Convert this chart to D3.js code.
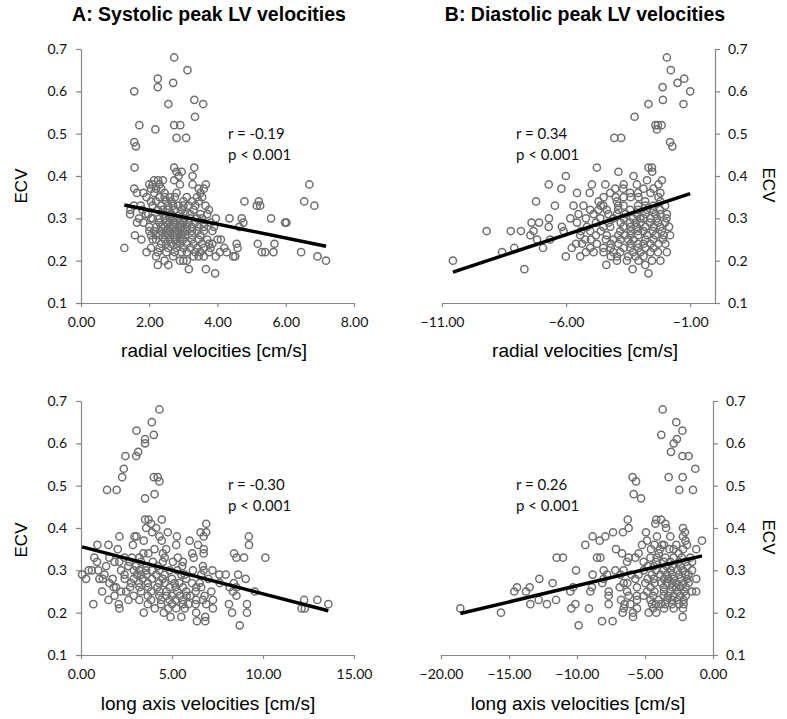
<!DOCTYPE html>
<html>
<head>
<meta charset="utf-8">
<script src="https://cdn.jsdelivr.net/npm/d3@7"></script>
<style>
  body { margin: 0; background: #fff; }
  .axis path, .axis line { stroke: #868686; stroke-width: 1.2; }
  .axis text { font-family: Lato, "Open Sans", sans-serif; font-size: 14px; fill: #111; }
  .arial { font-family: "Liberation Sans", Arial, sans-serif; fill: #000; }
</style>
</head>
<body>
<div id="chart"></div>
<script>
// ---------- DATA (ECV vs peak LV velocities) ----------

// A top: systolic radial velocities [cm/s], ECV
var sysRadial = [
  [2.73,.68],[3.12,.65],[2.25,.63],[2.70,.62],[2.25,.61],[1.56,.60],[3.32,.58],[2.56,.57],[3.58,.57],
  [3.34,.54],[1.71,.52],[2.73,.52],[2.91,.52],[2.18,.51],[2.80,.49],[3.08,.49],[1.56,.48],[1.61,.47],
  [1.57,.42],[2.73,.42],[3.32,.42],[2.80,.41],[2.95,.41],[3.27,.40],[2.86,.40],
  [2.14,.39],[2.40,.39],[2.73,.39],[2.26,.39],
  [2.00,.38],[2.10,.38],[2.30,.38],[2.90,.38],[3.27,.38],[3.66,.38],[6.69,.38],
  [1.56,.37],[2.05,.37],[2.20,.37],[3.45,.37],[3.60,.37],[2.35,.37],
  [1.64,.36],[1.83,.36],[2.15,.36],[2.45,.36],[2.80,.36],[3.50,.36],
  [1.92,.35],[2.30,.35],[2.60,.35],[3.10,.35],[3.40,.35],[3.55,.35],
  [2.20,.34],[2.50,.34],[3.00,.34],[3.45,.34],[4.79,.34],[5.21,.34],[6.54,.34],
  [1.55,.33],[2.35,.33],[2.70,.33],[2.85,.33],[3.15,.33],[3.65,.33],[5.15,.33],[5.25,.33],[6.84,.33],
  [1.45,.32],[1.80,.32],[2.25,.32],[2.55,.32],[2.75,.32],[2.95,.32],[3.30,.32],[3.75,.32],
  [1.44,.31],[1.97,.31],[2.40,.31],[2.65,.31],[3.05,.31],[3.50,.31],[3.70,.31],
  [2.10,.30],[2.30,.30],[2.60,.30],[2.85,.30],[3.20,.30],[3.40,.30],[4.35,.30],[4.71,.30],[5.57,.30],
  [1.64,.29],[1.83,.29],[2.50,.29],[2.75,.29],[3.00,.29],[3.35,.29],[3.80,.29],[4.76,.29],[5.98,.29],[6.02,.29],
  [2.00,.28],[2.20,.28],[2.45,.28],[2.70,.28],[2.95,.28],[3.25,.28],[3.45,.28],[3.90,.28],[4.64,.28],
  [2.15,.27],[2.35,.27],[2.60,.27],[2.85,.27],[3.10,.27],[3.40,.27],[3.60,.27],
  [1.58,.26],[2.05,.26],[2.30,.26],[2.55,.26],[2.80,.26],[3.05,.26],[3.50,.26],
  [1.77,.25],[2.20,.25],[2.45,.25],[2.75,.25],[3.00,.25],[3.25,.25],[3.70,.25],[4.00,.25],[4.10,.25],
  [2.35,.24],[2.65,.24],[2.90,.24],[3.55,.24],[3.85,.24],[4.56,.24],[5.18,.24],[5.67,.24],
  [1.27,.23],[2.05,.23],[2.55,.23],[3.00,.23],[3.40,.23],[3.80,.23],[4.20,.23],[4.59,.23],
  [1.92,.22],[2.25,.22],[2.75,.22],[3.10,.22],[3.50,.22],[4.07,.22],[4.27,.22],[5.30,.22],[5.40,.22],[5.64,.22],[6.45,.22],
  [2.70,.21],[3.30,.21],[3.45,.21],[3.60,.21],[4.46,.21],[4.52,.21],[6.93,.21],
  [2.45,.20],[2.90,.20],[3.00,.20],[3.10,.20],[7.18,.20],
  [2.25,.19],[2.56,.19],[3.16,.18],[3.66,.18],[3.93,.17],
  [2.10,.33],[2.40,.32],[2.62,.31],[2.90,.31],[3.20,.31],[2.05,.30],[2.45,.30],[2.70,.30],[3.00,.30],[3.55,.30],
  [2.30,.29],[2.60,.29],[2.90,.29],[3.15,.29],[3.60,.29],[2.35,.28],[2.60,.28],[2.85,.28],[3.10,.28],[3.60,.28],
  [2.00,.27],[2.50,.27],[2.75,.27],[3.00,.27],[3.25,.27],[2.20,.26],[2.45,.26],[2.70,.26],[2.95,.26],[3.25,.26],
  [2.10,.25],[2.60,.25],[2.90,.25],[3.45,.25],[2.50,.24],[2.80,.24],[3.10,.24],[3.30,.24],[2.30,.23],[2.80,.23],
  [3.20,.23],[3.60,.23],[2.50,.22],[2.95,.22],[3.35,.22],[3.75,.22],[2.55,.33],[3.00,.33],[3.35,.33],[2.05,.34],
  [2.65,.34],[3.25,.34],[2.45,.35],[2.75,.35],[1.90,.31],[1.70,.30],[1.75,.33],[3.85,.27],[3.95,.30],[3.75,.24],
  [2.20,.21],[3.95,.21]
];

// B top: diastolic radial velocities [cm/s], ECV
var diaRadial = [
  [-1.94,.68],[-1.78,.65],[-1.24,.63],[-1.51,.62],[-2.11,.61],[-1.00,.60],[-2.10,.58],[-1.27,.57],[-2.68,.57],
  [-3.24,.54],[-2.40,.52],[-2.30,.52],[-2.15,.52],[-2.34,.51],[-4.06,.49],[-3.78,.49],[-1.81,.48],[-1.72,.47],
  [-4.76,.42],[-2.68,.42],[-2.54,.42],[-3.89,.41],[-2.53,.41],[-6.01,.40],[-3.28,.40],
  [-2.74,.39],[-2.14,.39],
  [-6.70,.38],[-4.96,.38],[-4.42,.38],[-3.68,.38],[-3.15,.38],[-2.28,.38],
  [-6.19,.37],[-4.02,.37],[-2.88,.37],[-2.48,.37],
  [-5.56,.36],[-5.05,.36],[-4.22,.36],[-3.42,.36],[-2.60,.36],
  [-4.49,.35],[-3.68,.35],[-3.08,.35],[-2.28,.35],[-3.40,.35],
  [-7.21,.34],[-4.69,.34],[-3.95,.34],[-2.81,.34],[-2.20,.34],
  [-6.45,.33],[-5.70,.33],[-5.30,.33],[-4.60,.33],[-3.68,.33],[-2.48,.33],[-2.01,.33],[-3.10,.33],
  [-5.03,.32],[-4.36,.32],[-3.42,.32],[-2.74,.32],[-2.21,.32],[-3.90,.32],
  [-5.50,.31],[-4.89,.31],[-3.95,.31],[-3.15,.31],[-2.41,.31],[-1.94,.31],[-3.60,.31],
  [-6.69,.30],[-5.83,.30],[-4.62,.30],[-3.68,.30],[-2.88,.30],[-2.34,.30],[-3.30,.30],
  [-7.39,.29],[-7.09,.29],[-5.56,.29],[-4.29,.29],[-3.42,.29],[-2.62,.29],[-2.01,.29],[-3.00,.29],
  [-6.70,.28],[-6.17,.28],[-5.16,.28],[-4.22,.28],[-3.15,.28],[-2.48,.28],[-3.70,.28],
  [-9.20,.27],[-8.23,.27],[-7.82,.27],[-7.31,.27],[-6.10,.27],[-5.03,.27],[-3.82,.27],[-2.88,.27],[-2.14,.27],[-3.40,.27],
  [-7.44,.26],[-5.43,.26],[-4.36,.26],[-3.64,.26],[-2.74,.26],[-2.07,.26],[-1.81,.26],[-3.10,.26],
  [-7.17,.25],[-6.64,.25],[-5.23,.25],[-4.09,.25],[-3.28,.25],[-2.48,.25],[-3.80,.25],
  [-5.36,.24],[-4.76,.24],[-3.89,.24],[-2.88,.24],[-2.28,.24],[-3.40,.24],
  [-8.09,.23],[-6.93,.23],[-5.77,.23],[-5.03,.23],[-3.68,.23],[-2.48,.23],[-4.20,.23],[-3.10,.23],
  [-8.58,.22],[-4.89,.22],[-4.49,.22],[-3.82,.22],[-3.01,.22],[-1.94,.22],[-2.60,.22],
  [-6.01,.21],[-5.43,.21],[-3.95,.21],[-2.88,.21],[-3.50,.21],
  [-10.56,.20],[-3.95,.20],[-3.55,.20],[-3.08,.20],[-2.54,.20],
  [-4.38,.19],[-2.81,.19],[-7.68,.18],[-3.32,.18],[-2.68,.17],
  [-4.50,.33],[-3.90,.33],[-2.80,.33],[-4.70,.32],[-3.10,.32],[-2.50,.32],[-4.30,.31],[-2.80,.31],[-2.20,.31],
  [-4.10,.30],[-3.00,.30],[-2.60,.30],[-4.80,.29],[-3.80,.29],[-3.20,.29],[-2.30,.29],[-4.50,.28],[-3.40,.28],
  [-2.80,.28],[-2.20,.28],[-4.60,.27],[-3.10,.27],[-2.50,.27],[-4.80,.26],[-3.90,.26],[-3.40,.26],[-2.40,.26],
  [-4.40,.25],[-3.50,.25],[-2.80,.25],[-2.10,.25],[-4.20,.24],[-3.10,.24],[-2.60,.24],[-4.50,.23],[-3.40,.23],
  [-2.80,.23],[-4.10,.22],[-3.30,.22],[-2.30,.22],[-5.20,.30],[-5.40,.27],[-5.00,.25],[-5.60,.24],[-5.20,.22],
  [-4.00,.35],[-3.10,.36],[-2.20,.36],[-3.70,.37],[-2.00,.24],[-1.85,.28],[-1.95,.30],[-4.20,.21],[-3.20,.21],
  [-2.20,.20]
];

// C bottom: systolic long axis velocities [cm/s], ECV
var sysLong = [
  [4.31,.68],[3.89,.65],[3.05,.63],[4.00,.62],[3.52,.61],[3.52,.60],[3.14,.58],[3.03,.57],[2.44,.57],
  [2.35,.54],[2.26,.52],[4.00,.52],[4.22,.52],[4.31,.51],[1.43,.49],[1.96,.49],[4.04,.48],[3.52,.47],
  [3.52,.42],[3.71,.42],[4.44,.42],[6.88,.41],[3.85,.41],[3.58,.40],[4.13,.40],
  [3.91,.39],[4.77,.39],[6.57,.39],[6.88,.39],
  [2.11,.38],[2.94,.38],[3.05,.38],[4.31,.38],[5.27,.38],[6.74,.38],[9.22,.38],
  [3.45,.37],[4.44,.37],[5.97,.37],
  [0.90,.36],[1.51,.36],[2.85,.36],[5.23,.36],[6.43,.36],[9.23,.36],
  [2.02,.35],[4.04,.35],[4.68,.35],[6.74,.35],
  [3.43,.34],[4.50,.34],[6.11,.34],[6.74,.34],[8.41,.34],
  [0.73,.33],[1.56,.33],[2.39,.33],[3.21,.33],[5.32,.33],[6.19,.33],[8.54,.33],[8.96,.33],[10.13,.33],
  [0.88,.32],[1.84,.32],[2.66,.32],[3.95,.32],[5.05,.32],[3.30,.32],
  [1.38,.31],[3.03,.31],[4.22,.31],[5.56,.31],[3.60,.31],
  [0.42,.30],[0.95,.30],[2.20,.30],[3.58,.30],[4.87,.30],[6.15,.30],[6.74,.30],[7.22,.30],[2.90,.30],
  [0.06,.29],[1.29,.29],[2.39,.29],[3.07,.29],[4.13,.29],[5.51,.29],[6.61,.29],[7.95,.29],[8.63,.29],[3.60,.29],
  [0.28,.28],[1.01,.28],[1.74,.28],[3.40,.28],[4.50,.28],[5.78,.28],[9.05,.28],[2.90,.28],
  [1.56,.27],[2.75,.27],[3.67,.27],[5.14,.27],[6.52,.27],[7.62,.27],[4.30,.27],
  [1.93,.26],[3.21,.26],[4.87,.26],[6.33,.26],[8.17,.26],[8.54,.26],[4.20,.26],[5.60,.26],
  [1.16,.25],[2.48,.25],[3.85,.25],[5.78,.25],[7.16,.25],[9.55,.25],[8.35,.25],[4.70,.25],
  [1.84,.24],[3.67,.24],[5.42,.24],[6.79,.24],[8.54,.24],[5.00,.24],[6.00,.24],
  [1.51,.23],[2.61,.23],[3.85,.23],[4.87,.23],[6.33,.23],[7.25,.23],[12.26,.23],[12.99,.23],[5.60,.23],
  [0.68,.22],[2.07,.22],[3.67,.22],[5.60,.22],[6.88,.22],[8.13,.22],[9.12,.22],[13.59,.22],[4.40,.22],
  [2.11,.21],[4.06,.21],[5.23,.21],[7.25,.21],[12.12,.21],[12.30,.21],
  [3.45,.20],[4.55,.20],[6.33,.20],[8.30,.20],[9.12,.20],
  [4.92,.19],[5.51,.19],[6.83,.19],[6.37,.18],[6.83,.18],[8.72,.17],
  [2.60,.31],[3.20,.30],[3.90,.30],[4.30,.30],[5.30,.30],[5.70,.29],[3.30,.29],[4.60,.29],[5.00,.28],[3.90,.28],
  [2.40,.28],[5.40,.27],[6.10,.27],[3.20,.27],[4.60,.27],[2.70,.26],[3.70,.26],[5.20,.26],[6.60,.26],[3.30,.25],
  [4.30,.25],[5.30,.25],[6.30,.25],[2.90,.24],[4.30,.24],[4.70,.24],[5.80,.24],[3.20,.23],[4.40,.23],[5.20,.23],
  [6.70,.23],[5.00,.22],[5.90,.22],[6.30,.22],[4.80,.21],[5.70,.21],[3.70,.34],[5.60,.32],[4.50,.32],[2.10,.32],
  [2.80,.33],[4.60,.33],[6.70,.31],[7.60,.29],[7.00,.28],[8.40,.27],[2.20,.25],[1.80,.26],[1.20,.28],[0.60,.30]
];

// D bottom: diastolic long axis velocities [cm/s], ECV
var diaLong = [
  [-3.70,.68],[-2.70,.65],[-2.25,.63],[-3.80,.62],[-2.65,.61],[-2.89,.60],[-3.09,.58],[-2.25,.57],[-1.79,.57],
  [-1.30,.54],[-5.91,.52],[-3.26,.52],[-2.23,.52],[-5.66,.51],[-2.48,.49],[-1.47,.49],[-5.83,.48],[-5.29,.47],
  [-6.27,.42],[-4.17,.42],[-3.82,.42],[-4.24,.41],[-3.50,.41],[-6.20,.40],[-2.21,.40],[-3.45,.40],
  [-7.35,.39],[-6.62,.39],[-4.93,.39],[-2.06,.39],
  [-8.85,.38],[-7.92,.38],[-4.12,.38],[-3.14,.38],[-2.21,.38],
  [-8.33,.37],[-4.85,.37],[-0.81,.37],[-2.03,.37],
  [-9.39,.36],[-5.22,.36],[-3.75,.36],[-1.91,.36],[-4.30,.36],
  [-7.13,.35],[-4.56,.35],[-1.23,.35],[-2.90,.35],
  [-6.69,.34],[-5.47,.34],[-3.99,.34],[-2.52,.34],
  [-11.50,.33],[-11.03,.33],[-8.53,.33],[-8.28,.33],[-6.20,.33],[-5.71,.33],[-4.14,.33],[-2.89,.33],[-1.67,.33],
  [-6.32,.32],[-5.10,.32],[-3.14,.32],[-1.54,.32],[-2.50,.32],
  [-4.36,.31],[-2.40,.31],[-3.40,.31],
  [-10.07,.30],[-8.04,.30],[-7.18,.30],[-6.57,.30],[-5.10,.30],[-3.63,.30],[-2.60,.30],[-1.54,.30],
  [-8.85,.29],[-7.79,.29],[-6.81,.29],[-5.47,.29],[-3.87,.29],[-2.03,.29],[-3.00,.29],
  [-12.77,.28],[-8.04,.28],[-5.71,.28],[-4.36,.28],[-2.89,.28],[-1.23,.28],[-3.60,.28],
  [-11.79,.27],[-8.14,.27],[-6.57,.27],[-4.98,.27],[-3.38,.27],[-2.16,.27],[-2.70,.27],
  [-14.41,.26],[-13.48,.26],[-10.29,.26],[-8.90,.26],[-6.86,.26],[-5.59,.26],[-3.63,.26],[-2.40,.26],[-3.00,.26],
  [-14.61,.25],[-13.75,.25],[-10.49,.25],[-9.02,.25],[-7.67,.25],[-6.32,.25],[-4.85,.25],[-3.14,.25],[-1.54,.25],[-1.23,.25],
  [-7.67,.24],[-6.20,.24],[-5.10,.24],[-3.63,.24],[-2.40,.24],[-2.90,.24],
  [-12.82,.23],[-11.54,.23],[-6.76,.23],[-5.59,.23],[-3.99,.23],[-3.38,.23],[-2.16,.23],
  [-13.43,.22],[-12.21,.22],[-10.12,.22],[-7.67,.22],[-6.08,.22],[-4.49,.22],[-3.82,.22],[-3.01,.22],[-2.16,.22],
  [-18.58,.21],[-10.42,.21],[-9.12,.21],[-6.57,.21],[-5.59,.21],[-2.89,.21],[-2.21,.21],
  [-15.59,.20],[-6.64,.20],[-5.88,.20],[-4.73,.20],[-4.17,.20],
  [-5.88,.19],[-2.23,.19],[-8.16,.18],[-7.38,.18],[-9.88,.17],
  [-4.60,.33],[-3.50,.33],[-2.30,.33],[-4.20,.32],[-3.60,.32],[-2.00,.32],[-4.80,.31],[-3.00,.31],[-1.90,.31],
  [-4.20,.30],[-3.10,.30],[-2.20,.30],[-4.50,.29],[-3.40,.29],[-2.50,.29],[-1.80,.29],[-4.80,.28],[-3.30,.28],
  [-2.40,.28],[-1.90,.28],[-4.30,.27],[-3.80,.27],[-3.00,.27],[-1.80,.27],[-4.60,.26],[-2.70,.26],[-2.00,.26],
  [-4.30,.25],[-3.60,.25],[-2.60,.25],[-2.10,.25],[-4.40,.24],[-3.30,.24],[-2.00,.24],[-4.60,.23],[-3.00,.23],
  [-2.60,.23],[-4.20,.22],[-3.50,.22],[-2.50,.22],[-3.90,.35],[-3.20,.35],[-2.20,.35],[-3.60,.36],[-2.70,.36],
  [-4.40,.21],[-3.60,.21],[-6.00,.29],[-6.30,.27],[-5.60,.24],[-6.50,.22]
];

// regression lines (ECV = intercept + slope * velocity), A, B, C, D
var trendSlope = [-0.0165, 0.0194, -0.01116, 0.00766];
var trendIntercept = [0.3525, 0.3778, 0.3562, 0.3403];
var statR = ["r = -0.19", "r = 0.34", "r = -0.30", "r = 0.26"];
var statP = ["p < 0.001", "p < 0.001", "p < 0.001", "p < 0.001"];

var panelTitles = ["A: Systolic peak LV velocities", "B: Diastolic peak LV velocities"];
var xTitles = ["radial velocities [cm/s]", "radial velocities [cm/s]",
               "long axis velocities [cm/s]", "long axis velocities [cm/s]"];
var xDomains = [[0, 8], [-11, 0], [0, 15], [-20, 0]];
var xTickValues = [[0, 2, 4, 6, 8], [-11, -6, -1], [0, 5, 10, 15], [-20, -15, -10, -5, 0]];
var yTickValues = [0.1, 0.2, 0.3, 0.4, 0.5, 0.6, 0.7];
var yLabel = "ECV";

// ---------- LAYOUT ----------
var svgWidth = 787, svgHeight = 719;

var panels = [
  { data: sysRadial, left: 81,  right: 354, top: 49,  bottom: 303, side: "left",  xTitleX: 214, xTitleY: 357, ecvX: 21,  ecvY: 186, annX: 228, annY: 139 },
  { data: diaRadial, left: 442, right: 715, top: 49,  bottom: 303, side: "right", xTitleX: 585, xTitleY: 357, ecvX: 769, ecvY: 185, annX: 516, annY: 139 },
  { data: sysLong,   left: 81,  right: 354, top: 401, bottom: 655, side: "left",  xTitleX: 208, xTitleY: 710, ecvX: 21,  ecvY: 540, annX: 228, annY: 490 },
  { data: diaLong,   left: 441, right: 713, top: 401, bottom: 655, side: "right", xTitleX: 578, xTitleY: 710, ecvX: 769, ecvY: 537, annX: 516, annY: 490 }
];

var svg = d3.select("#chart")
  .append("svg")
  .attr("width", svgWidth)
  .attr("height", svgHeight);

// panel titles
svg.append("text")
  .attr("class", "arial")
  .attr("x", 209).attr("y", 21)
  .attr("text-anchor", "middle")
  .style("font-size", "19.5px").style("font-weight", "bold")
  .text(panelTitles[0]);
svg.append("text")
  .attr("class", "arial")
  .attr("x", 585).attr("y", 21)
  .attr("text-anchor", "middle")
  .style("font-size", "19.5px").style("font-weight", "bold")
  .text(panelTitles[1]);

panels.forEach(function(p, i) {
  var x = d3.scaleLinear().domain(xDomains[i]).range([p.left, p.right]);
  var y = d3.scaleLinear().domain([0.1, 0.7]).range([p.bottom, p.top]);

  // x axis
  svg.append("g")
    .attr("class", "axis")
    .attr("transform", `translate(0, ${p.bottom})`)
    .call(d3.axisBottom(x)
      .tickValues(xTickValues[i])
      .tickFormat(d3.format(".2f"))
      .tickSizeInner(4).tickSizeOuter(0).tickPadding(10));

  // y axis, left or right
  var yAxis = p.side === "left" ? d3.axisLeft(y) : d3.axisRight(y);
  svg.append("g")
    .attr("class", "axis")
    .attr("transform", `translate(${p.side === "left" ? p.left : p.right}, 0)`)
    .call(yAxis
      .tickValues(yTickValues)
      .tickFormat(d3.format(".1f"))
      .tickSizeInner(5).tickSizeOuter(0).tickPadding(p.side === "left" ? 9 : 8));

  // points
  svg.append("g").selectAll("circle")
    .data(p.data)
    .enter()
    .append("circle")
    .attr("cx", d => x(d[0]))
    .attr("cy", d => y(d[1]))
    .attr("r", 3.6)
    .attr("fill", "none")
    .attr("stroke", "#6e6e6e")
    .attr("stroke-width", 1.5);

  // regression line over data range
  var ext = d3.extent(p.data, d => d[0]);
  svg.append("line")
    .attr("x1", x(ext[0]))
    .attr("y1", y(trendIntercept[i] + trendSlope[i] * ext[0]))
    .attr("x2", x(ext[1]))
    .attr("y2", y(trendIntercept[i] + trendSlope[i] * ext[1]))
    .attr("stroke", "#000")
    .attr("stroke-width", 3.5);

  // r and p annotation
  var ann = svg.append("g")
    .style("font-family", "Lato, 'Open Sans', sans-serif")
    .style("font-size", "15px")
    .attr("fill", "#111");
  ann.append("text").attr("x", p.annX).attr("y", p.annY).text(statR[i]);
  ann.append("text").attr("x", p.annX).attr("y", p.annY + 21).text(statP[i]);

  // x axis title
  svg.append("text")
    .attr("class", "arial")
    .attr("x", p.xTitleX).attr("y", p.xTitleY)
    .attr("text-anchor", "middle")
    .style("font-size", "19px")
    .text(xTitles[i]);

  // ECV label
  svg.append("text")
    .attr("class", "arial")
    .attr("transform", `translate(${p.ecvX}, ${p.ecvY}) rotate(${p.side === "left" ? -90 : 90})`)
    .attr("text-anchor", "middle")
    .attr("dy", "0.35em")
    .style("font-size", "17px")
    .text(yLabel);
});
</script>
</body>
</html>
